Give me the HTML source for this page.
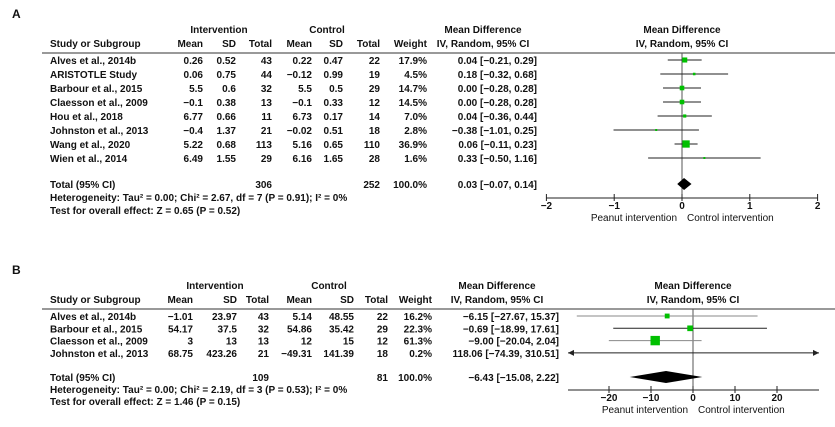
<!DOCTYPE html>
<html><head><meta charset="utf-8"><style>
body{margin:0;background:#fff}
svg text{font-family:"Liberation Sans",sans-serif;font-size:10px;font-weight:bold;fill:#111}
</style></head><body>
<svg id="svg" width="835" height="422" xmlns="http://www.w3.org/2000/svg"></svg>
<script>
// Panel A data
const aStudies=["Alves et al., 2014b","ARISTOTLE Study","Barbour et al., 2015","Claesson et al., 2009","Hou et al., 2018","Johnston et al., 2013","Wang et al., 2020","Wien et al., 2014"];
const aIntMean=["0.26","0.06","5.5","−0.1","6.77","−0.4","5.22","6.49"];
const aIntSD=["0.52","0.75","0.6","0.38","0.66","1.37","0.68","1.55"];
const aIntN=[43,44,32,13,11,21,113,29];
const aCtlMean=["0.22","−0.12","5.5","−0.1","6.73","−0.02","5.16","6.16"];
const aCtlSD=["0.47","0.99","0.5","0.33","0.17","0.51","0.65","1.65"];
const aCtlN=[22,19,29,12,14,18,110,28];
const aWeight=[17.9,4.5,14.7,14.5,7.0,2.8,36.9,1.6];
const aMD=[0.04,0.18,0.00,0.00,0.04,-0.38,0.06,0.33];
const aLo=[-0.21,-0.32,-0.28,-0.28,-0.36,-1.01,-0.11,-0.50];
const aHi=[0.29,0.68,0.28,0.28,0.44,0.25,0.23,1.16];
const aTotal=[0.03,-0.07,0.14];
const aTicks=[-2,-1,0,1,2];
// Panel B data
const bStudies=["Alves et al., 2014b","Barbour et al., 2015","Claesson et al., 2009","Johnston et al., 2013"];
const bIntMean=["−1.01","54.17","3","68.75"];
const bIntSD=["23.97","37.5","13","423.26"];
const bIntN=[43,32,13,21];
const bCtlMean=["5.14","54.86","12","−49.31"];
const bCtlSD=["48.55","35.42","15","141.39"];
const bCtlN=[22,29,12,18];
const bWeight=[16.2,22.3,61.3,0.2];
const bMD=[-6.15,-0.69,-9.00,118.06];
const bLo=[-27.67,-18.99,-20.04,-74.39];
const bHi=[15.37,17.61,2.04,310.51];
const bTotal=[-6.43,-15.08,2.22];
const bTicks=[-20,-10,0,10,20];

const svg=document.getElementById('svg');
const NS="http://www.w3.org/2000/svg";
function el(tag,attrs,name,txt){const e=document.createElementNS(NS,tag);for(const k in attrs)e.setAttribute(k,attrs[k]);


if(txt!==undefined)e.textContent=txt;svg.appendChild(e);return e;}
function t(x,y,s,anchor,name,extra){const a={x:x,y:y,'text-anchor':anchor||'start'};if(extra)Object.assign(a,extra);return el('text',a,name,s);}
function f2(v){return (v<0?'−':'')+Math.abs(v).toFixed(2);}
function pct(v){return v.toFixed(1)+'%';}

function panel(P){
  const {label,ly,h1,h2,line,rows,rowH,cols,xs,studies,im,isd,inn,cm,csd,cn,w,md,lo,hi,tot,ticks,axisY,totY,hetY,testY,het,test,sumI,sumC,mdRight,mdHead,plotHead,axL,axR,pre,grayIdx}=P;
  t(12,ly,label,'start',pre+'panel-label',{style:'font-size:12px'});
  t(cols.int,h1,'Intervention','middle',pre+'intervention-header');
  t(cols.ctl,h1,'Control','middle',pre+'control-header');
  t(mdHead,h1,'Mean Difference','middle',pre+'md-header');
  t(mdHead,h2,'IV, Random, 95% CI','middle',pre+'md-subheader');
  t(plotHead,h1,'Mean Difference','middle',pre+'plot-header');
  t(plotHead,h2,'IV, Random, 95% CI','middle',pre+'plot-subheader');
  t(50,h2,'Study or Subgroup','start',pre+'study-header');
  const hd=['Mean','SD','Total','Mean','SD','Total','Weight'];
  const hx=[cols.m1,cols.s1,cols.n1,cols.m2,cols.s2,cols.n2,cols.w];
  hd.forEach((s,i)=>t(hx[i],h2,s,'end',pre+'col-header'));
  el('line',{x1:42,x2:835,y1:line,y2:line,stroke:'#333','stroke-width':1},pre+'header-rule');
  const X=v=>xs.x0+v*xs.k;
  el('line',{x1:X(0),x2:X(0),y1:line,y2:axisY,stroke:'#555','stroke-width':1},pre+'zero-line');
  studies.forEach((s,i)=>{
    const y=rows+i*rowH, by=y+4;
    t(50,by,s,'start',pre+'study-name');
    t(cols.m1,by,im[i],'end',pre+'int-mean');
    t(cols.s1,by,isd[i],'end',pre+'int-sd');
    t(cols.n1,by,inn[i],'end',pre+'int-total');
    t(cols.m2,by,cm[i],'end',pre+'ctl-mean');
    t(cols.s2,by,csd[i],'end',pre+'ctl-sd');
    t(cols.n2,by,cn[i],'end',pre+'ctl-total');
    t(cols.w,by,pct(w[i]),'end',pre+'weight');
    t(mdRight,by,f2(md[i])+' ['+f2(lo[i])+', '+f2(hi[i])+']','end',pre+'md-ci');
    const x1=Math.max(X(lo[i]),axL), x2=Math.min(X(hi[i]),axR);
    const col=(grayIdx&&grayIdx.includes(i))?'#888':'#222';
    el('line',{x1:x1,x2:x2,y1:y,y2:y,stroke:col,'stroke-width':1},pre+'ci-line');
    if(X(lo[i])<axL) el('path',{d:`M${axL} ${y} l6 -3 v6 z`,fill:'#222'},pre+'ci-arrow-left');
    if(X(hi[i])>axR) el('path',{d:`M${axR} ${y} l-6 -3 v6 z`,fill:'#222'},pre+'ci-arrow-right');
    const xm=X(md[i]);
    if(xm>=axL&&xm<=axR){const sz=Math.max(2,Math.sqrt(w[i])*P.sq);
      el('rect',{x:xm-sz/2,y:y-sz/2,width:sz,height:sz,fill:'#00c000'},pre+'study-marker');}
  });
  t(50,totY+4,'Total (95% CI)','start',pre+'total-label');
  t(cols.n1,totY+4,sumI,'end',pre+'total-int');
  t(cols.n2,totY+4,sumC,'end',pre+'total-ctl');
  t(cols.w,totY+4,'100.0%','end',pre+'total-weight');
  t(mdRight,totY+4,f2(tot[0])+' ['+f2(tot[1])+', '+f2(tot[2])+']','end',pre+'total-md');
  el('path',{d:`M${X(tot[1])} ${totY} L${X(tot[0])} ${totY-6} L${X(tot[2])} ${totY} L${X(tot[0])} ${totY+6} Z`,fill:'#000'},pre+'pooled-diamond');
  t(50,hetY+4,het,'start',pre+'heterogeneity');
  t(50,testY+4,test,'start',pre+'overall-effect');
  el('line',{x1:axL,x2:axR,y1:axisY,y2:axisY,stroke:'#222','stroke-width':1},pre+'x-axis');
  ticks.forEach(v=>{el('line',{x1:X(v),x2:X(v),y1:axisY-4,y2:axisY+3,stroke:'#222'},pre+'x-tick');
    t(X(v),axisY+11,String(v).replace('-','−'),'middle',pre+'x-tick-label');});
  t(X(0)-5,axisY+23,'Peanut intervention','end',pre+'favours-left',{style:'font-weight:normal'});
  t(X(0)+5,axisY+23,'Control intervention','start',pre+'favours-right',{style:'font-weight:normal'});
}
panel({pre:'a-',label:'A',ly:18,h1:33,h2:47,line:53,rows:60,rowH:14,
 cols:{int:219,ctl:327,m1:203,s1:236,n1:272,m2:312,s2:343,n2:380,w:427},
 xs:{x0:682,k:67.8},studies:aStudies,im:aIntMean,isd:aIntSD,inn:aIntN,cm:aCtlMean,csd:aCtlSD,cn:aCtlN,
 w:aWeight,md:aMD,lo:aLo,hi:aHi,tot:aTotal,ticks:aTicks,axisY:198,totY:184,hetY:197,testY:210,
 het:'Heterogeneity: Tau² = 0.00; Chi² = 2.67, df = 7 (P = 0.91); I² = 0%',test:'Test for overall effect: Z = 0.65 (P = 0.52)',
 sumI:306,sumC:252,mdRight:537,mdHead:483,plotHead:682,axL:546,axR:818,sq:1.2});
panel({pre:'b-',label:'B',ly:274,h1:289,h2:303,line:309,rows:316,rowH:12.3,
 cols:{int:215,ctl:329,m1:193,s1:237,n1:269,m2:312,s2:354,n2:388,w:432},
 xs:{x0:693,k:4.2},studies:bStudies,im:bIntMean,isd:bIntSD,inn:bIntN,cm:bCtlMean,csd:bCtlSD,cn:bCtlN,
 w:bWeight,md:bMD,lo:bLo,hi:bHi,tot:bTotal,ticks:bTicks,axisY:390,totY:377,hetY:389,testY:401,
 het:'Heterogeneity: Tau² = 0.00; Chi² = 2.19, df = 3 (P = 0.53); I² = 0%',test:'Test for overall effect: Z = 1.46 (P = 0.15)',
 sumI:109,sumC:81,mdRight:559,mdHead:497,plotHead:693,axL:568,axR:819,sq:1.2,grayIdx:[0,2]});
</script>
</body></html>
